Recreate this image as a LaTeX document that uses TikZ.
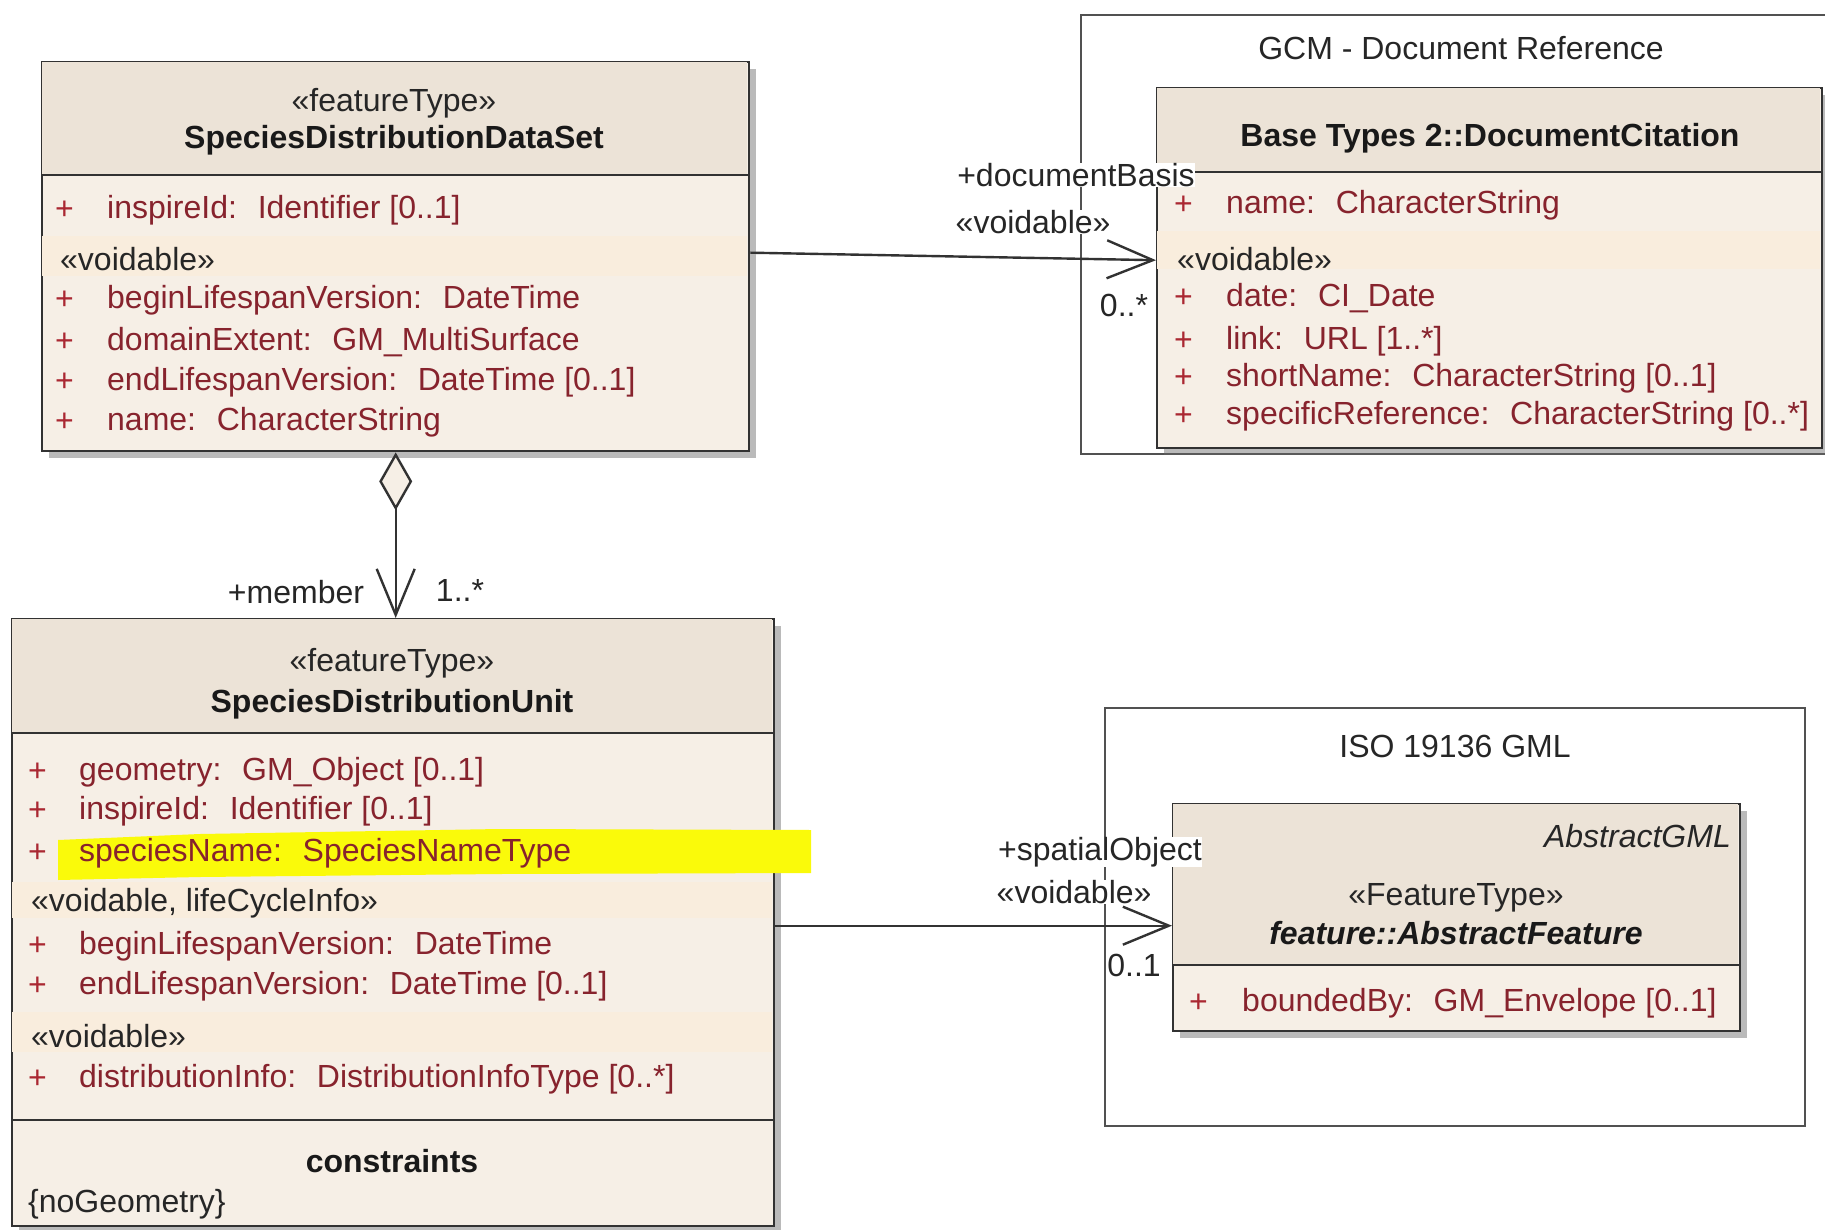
\documentclass[tikz,border=0pt]{standalone}
\usepackage{fontspec}
\setmainfont{Liberation Sans}
\usetikzlibrary{arrows.meta,shadows}

\definecolor{classfill}{RGB}{246,239,230}
\definecolor{headfill}{RGB}{236,227,215}
\definecolor{bandfill}{RGB}{249,237,221}
\definecolor{attrred}{RGB}{135,35,45}
\definecolor{plusred}{RGB}{170,40,50}
\definecolor{linegray}{RGB}{50,50,50}
\definecolor{hlyellow}{RGB}{250,250,10}

\begin{document}
\begin{tikzpicture}[x=1pt,y=-1pt,>={Straight Barb[length=46pt,width=38pt]}]
    \tikzset{classbox/.style={draw=linegray, line width=2.4pt, fill=classfill, inner sep=0pt, anchor=north west,
        drop shadow={shadow xshift=7pt, shadow yshift=-7pt, fill=black!60, opacity=0.45}},
    pkgbox/.style={draw=linegray!85, line width=1.8pt, inner sep=0pt, anchor=north west},
    plus/.style={anchor=west, inner sep=0pt, yshift=-3pt, text=plusred, font=\fontsize{32}{38}\selectfont},
    attr/.style={anchor=west, inner sep=0pt, yshift=-3pt, text=attrred, font=\fontsize{32}{38}\selectfont},
    stereo/.style={inner sep=0pt, yshift=-3pt, text=black!85, font=\fontsize{32}{38}\selectfont},
    ctitle/.style={inner sep=0pt, yshift=-3pt, text=black!90, font=\bfseries\fontsize{32}{38}\selectfont},
    role/.style={inner sep=0.5pt, fill=white, text=black!85, font=\fontsize{32}{38}\selectfont},
    assoc/.style={draw=linegray, line width=2.4pt},
    sepline/.style={draw=linegray, line width=2.4pt},
    }
    \useasboundingbox (0,0) rectangle (1825,1230);
    \clip (0,0) rectangle (1825,1230);

    %% packages
    \node[pkgbox, minimum width=760pt, minimum height=439pt] (docpkg) at (1080,14) {};
    \node[stereo] (docpkgname) at (1461,45) {GCM - Document Reference};
    \node[pkgbox, minimum width=700pt, minimum height=418pt] (gmlpkg) at (1104,707) {};
    \node[stereo] (gmlpkgname) at (1455,743) {ISO 19136 GML};

    %% SpeciesDistributionDataSet
    \node[classbox, minimum width=707pt, minimum height=389pt] (dataset) at (41,61) {};
    \fill[headfill] (42,62) rectangle (747,175);
    \fill[bandfill] (42,236) rectangle (747,276);
    \draw[sepline] (41,175) -- (748,175);
    \node[stereo] (dsstereo) at (394,100) {«featureType»};
    \node[ctitle] (dsname) at (394,137) {SpeciesDistributionDataSet};
    \node[stereo, anchor=west] (dsvoid) at (60,256) {«voidable»};
    \foreach \y/\t [count=\i] in {207/{inspireId:~ Identifier [0..1]}, 297/{beginLifespanVersion:~ DateTime},
        339/{domainExtent:~ GM\_MultiSurface}, 379/{endLifespanVersion:~ DateTime [0..1]}, 419/{name:~ CharacterString}}{
        \node[plus] (dsplus\i) at (55,\y) {+};
        \node[attr] (dsattr\i) at (107,\y) {\t};
    }

    %% DocumentCitation
    \node[classbox, minimum width=665pt, minimum height=360pt] (citation) at (1156,87) {};
    \fill[headfill] (1157,88) rectangle (1820,172);
    \fill[bandfill] (1157,231) rectangle (1820,269);
    \draw[sepline] (1156,172) -- (1821,172);
    \node[ctitle] (citename) at (1490,135) {Base Types 2::DocumentCitation};
    \node[stereo, anchor=west] (citevoid) at (1177,256) {«voidable»};
    \foreach \y/\t [count=\i] in {202/{name:~ CharacterString}, 295/{date:~ CI\_Date}, 338/{link:~ URL [1..*]},
        375/{shortName:~ CharacterString [0..1]}, 413/{specificReference:~ CharacterString [0..*]}}{
        \node[plus] (citeplus\i) at (1174,\y) {+};
        \node[attr] (citeattr\i) at (1226,\y) {\t};
    }

    %% SpeciesDistributionUnit
    \node[classbox, minimum width=762pt, minimum height=607pt] (sdu) at (11,618) {};
    \fill[headfill] (12,619) rectangle (772,733);
    \fill[bandfill] (12,882) rectangle (772,918);
    \fill[bandfill] (12,1012) rectangle (772,1052);
    \draw[sepline] (11,733) -- (773,733);
    \draw[sepline] (11,1120) -- (773,1120);
    \fill[hlyellow] (58,840) -- (200,834) -- (500,829) -- (811,830) -- (811,873) -- (500,874) -- (200,877) -- (58,880) -- cycle;
    \node[stereo] (sdustereo) at (392,660) {«featureType»};
    \node[ctitle] (sduname) at (392,701) {SpeciesDistributionUnit};
    \foreach \y/\t [count=\i] in {769/{geometry:~ GM\_Object [0..1]}, 808/{inspireId:~ Identifier [0..1]},
        850/{speciesName:~ SpeciesNameType}, 943/{beginLifespanVersion:~ DateTime},
        983/{endLifespanVersion:~ DateTime [0..1]}, 1076/{distributionInfo:~ DistributionInfoType [0..*]}}{
        \node[plus] (sduplus\i) at (28,\y) {+};
        \node[attr] (sduattr\i) at (79,\y) {\t};
    }
    \node[stereo, anchor=west] (sdulife) at (31,900) {«voidable, lifeCycleInfo»};
    \node[stereo, anchor=west] (sduvoid) at (31,1033) {«voidable»};
    \node[ctitle] (sducons) at (392,1158) {constraints};
    \node[stereo, anchor=west] (sdunogeom) at (28,1201) {\{noGeometry\}};

    %% AbstractFeature
    \node[classbox, minimum width=567pt, minimum height=227pt] (feature) at (1172,803) {};
    \fill[headfill] (1173,804) rectangle (1738,965);
    \draw[sepline] (1172,965) -- (1739,965);
    \node[stereo, anchor=east, font=\itshape\fontsize{32}{38}\selectfont] (featabs) at (1731,833) {AbstractGML};
    \node[stereo] (featstereo) at (1456,895) {«FeatureType»};
    \node[ctitle, font=\bfseries\itshape\fontsize{32}{38}\selectfont] (featname) at (1456,930) {feature::AbstractFeature};
    \node[plus] (featplus1) at (1189,1000) {+};
    \node[attr] (featattr1) at (1242,1000) {boundedBy:~ GM\_Envelope [0..1]};

% paths
    \draw[assoc,->] ([yshift=4pt]dataset.east) -- ([yshift=8pt]citation.west);
    \draw[assoc,{Diamond[length=58pt,width=33pt,fill=classfill]}->] (dataset.south) -- (dataset.south |- sdu.north);
    \draw[assoc,->] ([yshift=-3pt]sdu.east) -- ([yshift=-3pt]sdu.east -| feature.west);

    \node[role, inner sep=0pt] (basisrole) at (1076,175) {+documentBasis};
    \node[role, anchor=west] (basisvoid) at (955,222) {«voidable»};
    \node[role] (basismult) at (1124,305) {0..*};
    \node[role] (memberrole) at (296,592) {+member};
    \node[role] (membermult) at (460,590) {1..*};
    \node[role] (spatialrole) at (1100,852) {+spatialObject};
    \node[role, anchor=west] (spatialvoid) at (996,892) {«voidable»};
    \node[role] (spatialmult) at (1134,965) {0..1};
\end{tikzpicture}
\end{document}
